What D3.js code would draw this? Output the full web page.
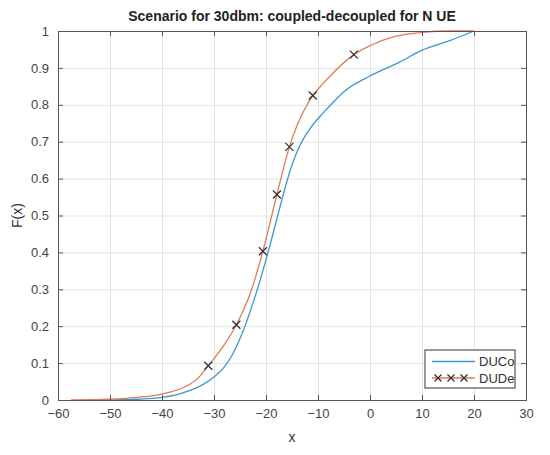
<!DOCTYPE html>
<html>
<head>
<meta charset="utf-8">
<script src="https://cdn.jsdelivr.net/npm/d3@7"></script>
<style>
body { margin: 0; background: #fff; }
text { font-family: "Liberation Sans", Arial, Helvetica, sans-serif; }
</style>
</head>
<body>
<svg id="chart" width="550" height="455"></svg>
<script>
// DUCo (coupled) - blue curve
var ducoX = [-50, -45, -40, -35, -32, -30, -28, -26.5, -24.6, -22, -19.8, -18.2, -17, -15.5, -13.8, -12.5, -11.4, -9, -7.2, -4.8, 0, 5.6, 10, 15.2, 20];
var ducoY = [0, 0.002, 0.007, 0.024, 0.043, 0.062, 0.09, 0.122, 0.18, 0.285, 0.39, 0.475, 0.54, 0.615, 0.68, 0.715, 0.738, 0.778, 0.805, 0.838, 0.878, 0.915, 0.948, 0.973, 1];

// DUDe (decoupled) - orange curve
var dudeX = [-57.5, -50, -45, -40, -35, -33, -31.1, -28, -25.7, -23, -20.6, -17.9, -15.5, -14, -12.5, -11, -9, -7.2, -3.1, 0, 5, 10, 15, 20];
var dudeY = [0, 0.002, 0.007, 0.016, 0.04, 0.06, 0.093, 0.15, 0.204, 0.29, 0.403, 0.557, 0.686, 0.745, 0.79, 0.825, 0.858, 0.885, 0.936, 0.96, 0.986, 0.996, 1, 1];

// x markers on the DUDe curve
var markX = [-31.1, -25.7, -20.6, -17.9, -15.5, -11, -3.1];
var markY = [0.093, 0.204, 0.403, 0.557, 0.686, 0.825, 0.936];

var xTicks = [-60, -50, -40, -30, -20, -10, 0, 10, 20, 30];
var yTicks = [0, 0.1, 0.2, 0.3, 0.4, 0.5, 0.6, 0.7, 0.8, 0.9, 1];

var seriesNames = ["DUCo", "DUDe"];
var blue = "#3d97cf";
var orange = "#dc7d58";

var svg = d3.select("#chart");
var mLeft = 58, mRight = 526, mTop = 31, mBottom = 400;
var w = mRight - mLeft, h = mBottom - mTop;

var x = d3.scaleLinear().domain([-60, 30]).range([0, w]);
var y = d3.scaleLinear().domain([0, 1]).range([h, 0]);

var g = svg.append("g").attr("transform", "translate(" + mLeft + "," + mTop + ")");

// grid
g.append("g")
  .attr("class", "grid")
  .attr("transform", "translate(0," + h + ")")
  .call(d3.axisBottom(x).tickValues(xTicks).tickSize(-h).tickFormat(""));
g.append("g")
  .attr("class", "grid")
  .call(d3.axisLeft(y).tickValues(yTicks).tickSize(-w).tickFormat(""));
g.selectAll(".grid .domain").remove();
g.selectAll(".grid line").attr("stroke", "#e3e3e3").attr("stroke-width", 1);

// curves
var line = d3.line()
  .x(function(d){ return x(d[0]); })
  .y(function(d){ return y(d[1]); })
  .curve(d3.curveMonotoneX);

var duco = ducoX.map(function(v, i){ return [v, ducoY[i]]; });
var dude = dudeX.map(function(v, i){ return [v, dudeY[i]]; });

g.append("path").datum(duco)
  .attr("d", line).attr("fill", "none")
  .attr("stroke", blue).attr("stroke-width", 1.3);
g.append("path").datum(dude)
  .attr("d", line).attr("fill", "none")
  .attr("stroke", orange).attr("stroke-width", 1.3);

// x markers
var cross = function(sel, cx, cy, s){
  sel.append("path")
    .attr("d", "M" + (cx - s) + "," + (cy - s) + "L" + (cx + s) + "," + (cy + s) +
               "M" + (cx - s) + "," + (cy + s) + "L" + (cx + s) + "," + (cy - s))
    .attr("stroke", "#333").attr("stroke-width", 1.3).attr("fill", "none");
};
markX.forEach(function(v, i){ cross(g, x(v), y(markY[i]), 4); });

// axes (ticks pointing inward, box on)
var axB = g.append("g").attr("transform", "translate(0," + h + ")")
  .call(d3.axisBottom(x).tickValues(xTicks).tickSize(-5).tickPadding(9)
        .tickFormat(function(d){ return d < 0 ? "\u2212" + Math.abs(d) : d; }));
var axL = g.append("g")
  .call(d3.axisLeft(y).tickValues(yTicks).tickSize(-5).tickPadding(9)
        .tickFormat(function(d){ return d3.format("")(+d.toFixed(1)); }));
var axT = g.append("g")
  .call(d3.axisTop(x).tickValues(xTicks).tickSize(-5).tickFormat(""));
var axR = g.append("g").attr("transform", "translate(" + w + ",0)")
  .call(d3.axisRight(y).tickValues(yTicks).tickSize(-5).tickFormat(""));

[axB, axL, axT, axR].forEach(function(a){
  a.select(".domain").attr("stroke", "#555").attr("stroke-width", 1);
  a.selectAll(".tick line").attr("stroke", "#555");
  a.selectAll("text").attr("fill", "#444").style("font-size", "13px");
});

// title and labels
svg.append("text")
  .attr("x", mLeft + w / 2).attr("y", 21)
  .attr("text-anchor", "middle")
  .style("font-size", "14px").style("font-weight", "bold").attr("fill", "#222")
  .text("Scenario for 30dbm: coupled-decoupled for N UE");
svg.append("text")
  .attr("x", mLeft + w / 2).attr("y", 442)
  .attr("text-anchor", "middle")
  .style("font-size", "14px").attr("fill", "#333")
  .text("x");
svg.append("text")
  .attr("transform", "translate(22," + (mTop + h / 2) + ") rotate(-90)")
  .attr("text-anchor", "middle")
  .style("font-size", "14px").attr("fill", "#333")
  .text("F(x)");

// legend
var lg = g.append("g").attr("transform", "translate(" + (w - 101) + "," + (h - 50) + ")");
lg.append("rect").attr("width", 90).attr("height", 38)
  .attr("fill", "#fff").attr("stroke", "#333").attr("stroke-width", 1);
var colors = [blue, orange];
seriesNames.forEach(function(name, i){
  var yy = 11.5 + i * 16.5;
  lg.append("line").attr("x1", 7).attr("x2", 50).attr("y1", yy).attr("y2", yy)
    .attr("stroke", colors[i]).attr("stroke-width", 1.3);
  if (i == 1) {
    [13, 26, 39].forEach(function(mx){ cross(lg, mx, yy, 3.5); });
  }
  lg.append("text").attr("x", 54).attr("y", yy + 4.5)
    .style("font-size", "13px").attr("fill", "#333").text(name);
});
</script>
</body>
</html>
